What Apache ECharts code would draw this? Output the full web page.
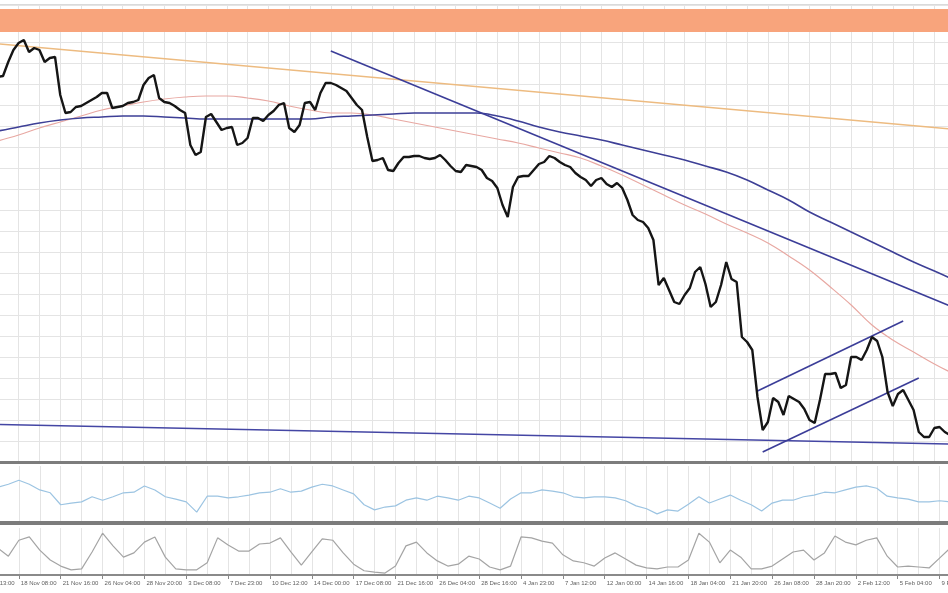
<!DOCTYPE html>
<html><head><meta charset="utf-8">
<script src="https://cdn.jsdelivr.net/npm/echarts@6/dist/echarts.min.js"></script>
<style>html,body{margin:0;padding:0;background:#fff}#c{width:948px;height:593px}</style>
</head><body><div id="c"></div>
<script>
// time-axis tick labels (one every 8 price bars)
const tickLabels = ["14 Nov 13:00","18 Nov 08:00","21 Nov 16:00","26 Nov 04:00","28 Nov 20:00","3 Dec 08:00","7 Dec 23:00","10 Dec 12:00","14 Dec 00:00","17 Dec 08:00","21 Dec 16:00","26 Dec 04:00","28 Dec 16:00","4 Jan 23:00","7 Jan 12:00","12 Jan 00:00","14 Jan 16:00","18 Jan 04:00","21 Jan 20:00","26 Jan 08:00","28 Jan 20:00","2 Feb 12:00","5 Feb 04:00","9 Feb 16:00"];

// price (close), in chart points above the panel floor
const price = [377,380,382,384,385,386,400,412,419,422,410,414,412,400,404,405,367,349,350,355,
356,359,362,365,369,369,354,355,356,359,360,362,377,384,387,364,360,359,356,352,
349,317,307,310,345,348,340,332,334,335,317,319,324,344,344,341,347,351,357,359,
334,330,337,359,360,352,369,379,379,377,374,371,364,357,352,325,301,302,304,292,
291,299,305,305,306,306,304,303,304,307,302,296,291,290,297,296,295,292,284,281,
274,257,245,275,285,286,286,292,298,300,306,304,300,297,295,289,285,282,276,282,
284,278,275,279,274,262,247,242,240,234,222,177,184,172,160,158,167,174,190,195,
178,155,160,177,200,183,180,125,120,112,65,32,40,64,60,47,66,63,60,53,
42,39,62,88,88,89,74,77,105,105,102,112,125,121,105,70,56,68,72,62,
52,30,25,25,34,35,30,27];

// moving averages, one value every 4 bars
const maSlow = [329,331,335,339,342,344,345,346,346,345,344,343,343,343,343,343,343,345,346,347,
348,349,349,349,349,346,341,335,330,326,322,317,312,307,302,296,290,282,272,262,
250,240,230,220,210,200,191,184];
const maFast = [314,321,327,334,340,346,352,356,360,363,365,366,366,364,361,356,352,349,349,347,
343,339,335,331,327,323,319,314,309,304,296,287,277,267,257,248,238,229,219,206,
192,175,157,137,122,110,98,90];

// drawn trend lines: [bar index, value]
const orangeTrend = [[0,420],[187,333]];
const steepTrend = [[68,411],[187,156]];
const supportLine = [[0,38],[187,18]];
const channelUpper = [[150,71],[178,141]];
const channelLower = [[151,10],[181,84]];
const resistanceZone = [430,453];

// oscillators, one value every 2 bars
const rsi = [58,60,63,68,75,68,58,53,32,35,37,46,40,46,53,54,65,58,46,42,
37,19,47,47,44,46,49,53,54,60,54,56,63,68,65,58,51,32,23,28,
30,40,44,40,47,44,40,47,44,35,26,42,53,53,58,56,53,46,44,46,
46,44,39,30,25,16,23,21,33,46,35,42,49,40,32,21,35,40,40,46,
49,54,53,58,63,65,61,47,44,42,37,37,39,37];
const stoch = [74,64,57,40,74,81,53,32,19,11,13,49,89,62,38,47,70,81,38,13,
11,11,26,79,64,51,51,66,68,79,49,21,49,77,74,47,23,9,6,4,
19,62,70,47,30,19,23,40,34,17,11,19,81,79,72,68,43,30,26,19,
36,47,34,21,15,13,17,17,32,89,70,26,53,38,13,13,19,34,49,53,
32,47,83,70,64,74,79,40,17,19,17,15,36,57];

const chart = echarts.init(document.getElementById('c'), null, {renderer:'canvas'});
const barCats = price.map((_, i) => String(i));
const oscCats = rsi.map((_, i) => String(i));
const stepPairs = (arr, step, last) => arr.map((v, j) => [Math.min(j * step, last), v]);
const gridLine = {show:true, lineStyle:{color:'#e4e4e4', width:1}};
const hiddenY = {axisLabel:{show:false}, axisLine:{show:false}, axisTick:{show:false}};
const trend = (data, color, w) => ({type:'line', data, xAxisIndex:0, yAxisIndex:0, symbol:'none',
  lineStyle:{color, width:w}, silent:true, z:3});

chart.setOption({
  animation:false,
  backgroundColor:'#ffffff',
  grid:[
    {left:-23, right:-2, top:5, height:457, outerBoundsMode:'none', containLabel:false,
     show:true, borderColor:'#b4b4b4', borderWidth:1, backgroundColor:'#fff'},
    {left:-23, right:-2, top:466, height:57, outerBoundsMode:'none', containLabel:false},
    {left:-23, right:-2, top:528, height:47, outerBoundsMode:'none', containLabel:false}
  ],
  xAxis:[
    {type:'category', gridIndex:0, data:barCats, boundaryGap:false,
     axisLine:{onZero:false, lineStyle:{color:'#7c7c7c', width:3}}, axisTick:{show:false}, axisLabel:{show:false},
     splitLine:Object.assign({interval:3}, gridLine)},
    {type:'category', gridIndex:1, data:oscCats, boundaryGap:false,
     axisLine:{onZero:false, lineStyle:{color:'#7c7c7c', width:4}}, axisTick:{show:false}, axisLabel:{show:false},
     splitLine:Object.assign({interval:1}, gridLine)},
    {type:'category', gridIndex:2, data:oscCats, boundaryGap:false,
     axisLine:{onZero:false, lineStyle:{color:'#8a8a8a', width:2}},
     axisTick:{show:true, length:4, interval:(i) => i % 4 === 0, lineStyle:{color:'#888'}},
     axisLabel:{show:true, interval:(i) => i % 4 === 0, align:'left', margin:5, hideOverlap:false,
       padding:[0,0,0,2],
       formatter:(v) => tickLabels[Number(v) / 4] || '',
       fontSize:6, color:'#606060', fontFamily:'Liberation Sans'},
     splitLine:Object.assign({interval:1}, gridLine)}
  ],
  yAxis:[
    Object.assign({type:'value', gridIndex:0, min:0, max:457, interval:21, splitLine:gridLine}, hiddenY),
    Object.assign({type:'value', gridIndex:1, min:0, max:100, splitLine:{show:false}}, hiddenY),
    Object.assign({type:'value', gridIndex:2, min:0, max:100, splitLine:{show:false}}, hiddenY)
  ],
  series:[
    {type:'line', data:[], xAxisIndex:0, yAxisIndex:0, silent:true,
     markArea:{silent:true, itemStyle:{color:'#f8a47c'},
       data:[[{yAxis:resistanceZone[0]},{yAxis:resistanceZone[1]}]]}},
    {type:'line', data:stepPairs(maFast, 4, 187), smooth:0.4, symbol:'none', silent:true, z:2,
     lineStyle:{color:'#e8a8a2', width:1.2}},
    {type:'line', data:stepPairs(maSlow, 4, 187), smooth:0.4, symbol:'none', silent:true, z:2,
     lineStyle:{color:'#3d3f96', width:1.6}},
    trend(orangeTrend, '#edbb80', 1.6),
    trend(steepTrend, '#3b3d98', 1.6),
    trend(supportLine, '#4446a4', 1.6),
    trend(channelUpper, '#3b3d98', 1.6),
    trend(channelLower, '#3b3d98', 1.6),
    {type:'line', data:price, xAxisIndex:0, yAxisIndex:0, symbol:'none', silent:true, z:4,
     lineStyle:{color:'#151515', width:2.4}},
    {type:'line', data:rsi, xAxisIndex:1, yAxisIndex:1, symbol:'none', silent:true,
     lineStyle:{color:'#9cc4e2', width:1.2}},
    {type:'line', data:stoch, xAxisIndex:2, yAxisIndex:2, symbol:'none', silent:true,
     lineStyle:{color:'#a4a4a4', width:1.2}}
  ]
});
</script></body></html>
